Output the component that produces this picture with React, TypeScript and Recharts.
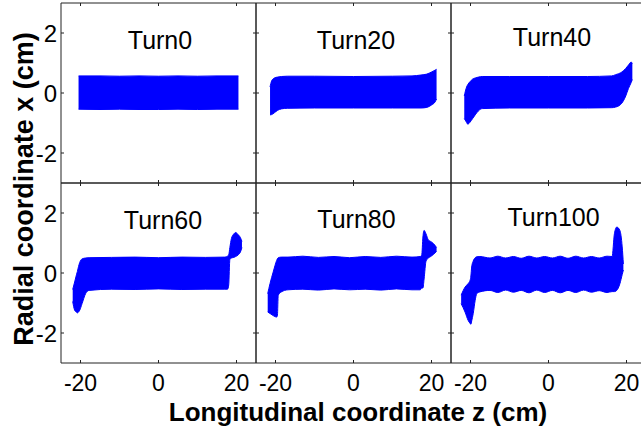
import { AreaChart, Area, XAxis, YAxis, ReferenceArea } from 'recharts';

// particle cloud outlines: z (cm), lower and upper edge of x (cm)
const turn0Z = [-20.5, -15, -10, -5, 0, 5, 10, 15, 20.5];
const turn0Low = [-0.54, -0.55, -0.54, -0.55, -0.55, -0.54, -0.55, -0.54, -0.54];
const turn0High = [0.57, 0.57, 0.56, 0.57, 0.56, 0.57, 0.56, 0.57, 0.57];

const turn20Z = [-21.4, -21.0, -20.3, -19.5, -18.5, -17, -10, 0, 10, 15, 17.3, 18.8, 20.0, 20.9, 21.3];
const turn20Low = [-0.73, -0.72, -0.66, -0.58, -0.53, -0.51, -0.5, -0.5, -0.5, -0.5, -0.5, -0.48, -0.4, -0.3, -0.2];
const turn20High = [0.2, 0.4, 0.5, 0.53, 0.55, 0.56, 0.56, 0.55, 0.56, 0.57, 0.6, 0.63, 0.7, 0.76, 0.79];

const turn40Z = [-21.6, -21.0, -20.7, -20.1, -19.5, -18.8, -18.0, -17.0, -10, 0, 10, 16.2, 17.2, 18.8, 19.8, 20.5, 21.2, 21.5];
const turn40Low = [-0.85, -0.98, -1.04, -0.97, -0.86, -0.73, -0.6, -0.52, -0.5, -0.5, -0.5, -0.49, -0.47, -0.34, -0.1, 0.15, 0.35, 0.45];
const turn40High = [-0.1, 0.2, 0.28, 0.38, 0.46, 0.5, 0.53, 0.55, 0.55, 0.55, 0.55, 0.57, 0.61, 0.7, 0.82, 0.93, 1.03, 0.98];

const turn60Z = [-22.0, -21.5, -21.0, -20.8, -20.5, -20.2, -19.6, -18.7, -17.8, -12, -6, 0, 6, 12, 17.0, 17.7, 18.0, 18.3, 18.7, 19.3, 19.8, 20.4, 21.0, 21.4];
const turn60Low = [-0.95, -1.24, -1.31, -1.33, -1.3, -1.24, -1.02, -0.69, -0.58, -0.54, -0.55, -0.53, -0.55, -0.54, -0.54, -0.54, -0.4, 0.45, 0.5, 0.52, 0.55, 0.6, 0.7, 0.85];
const turn60High = [-0.55, -0.3, -0.04, 0.05, 0.22, 0.35, 0.47, 0.5, 0.51, 0.52, 0.53, 0.51, 0.53, 0.52, 0.53, 0.56, 0.6, 0.85, 1.15, 1.3, 1.35, 1.28, 1.18, 1.05];

const turn80Z = [-22.0, -21.4, -20.6, -19.7, -19.5, -19.3, -18.5, -16.8, -13, -9, -5, -1, 3, 7, 11, 15, 17.1, 17.5, 17.8, 18.1, 18.6, 19.2, 19.8, 20.5, 21.3];
const turn80Low = [-1.3, -1.35, -1.42, -1.47, -1.4, -0.74, -0.63, -0.56, -0.54, -0.57, -0.53, -0.56, -0.54, -0.57, -0.53, -0.56, -0.56, -0.5, -0.5, -0.2, 0.4, 0.5, 0.55, 0.62, 0.72];
const turn80High = [-0.69, -0.35, 0.03, 0.42, 0.48, 0.51, 0.53, 0.53, 0.56, 0.52, 0.55, 0.51, 0.55, 0.52, 0.56, 0.53, 0.55, 0.6, 1.2, 1.42, 1.3, 1.1, 1.05, 0.98, 0.85];

const turn100Z = [-22.4, -21.4, -20.6, -20.1, -19.9, -19.7, -19.3, -18.8, -18.4, -17.6, -15, -13, -11, -9, -7, -5, -3, -1, 1, 3, 5, 7, 9, 11, 13, 15, 16.3, 16.9, 17.5, 18.3, 18.9, 19.2];
const turn100Low = [-1.02, -1.3, -1.58, -1.68, -1.71, -1.6, -1.35, -0.91, -0.69, -0.63, -0.58, -0.65, -0.57, -0.64, -0.58, -0.66, -0.57, -0.65, -0.58, -0.66, -0.58, -0.65, -0.57, -0.64, -0.59, -0.65, -0.62, -0.62, -0.58, -0.36, -0.05, 0.1];
const turn100High = [-0.74, -0.47, -0.35, -0.24, -0.1, 0.2, 0.4, 0.51, 0.54, 0.55, 0.5, 0.56, 0.5, 0.55, 0.49, 0.56, 0.5, 0.55, 0.5, 0.56, 0.49, 0.56, 0.5, 0.55, 0.5, 0.56, 0.55, 1.31, 1.53, 1.42, 0.87, 0.3];

const titles = ['Turn0', 'Turn20', 'Turn40', 'Turn60', 'Turn80', 'Turn100'];
const xTicks = [-20, 0, 20];
const yTicks = [-2, 0, 2];

const panels = [
  { z: turn0Z, low: turn0Low, high: turn0High },
  { z: turn20Z, low: turn20Low, high: turn20High },
  { z: turn40Z, low: turn40Low, high: turn40High },
  { z: turn60Z, low: turn60Low, high: turn60High },
  { z: turn80Z, low: turn80Low, high: turn80High },
  { z: turn100Z, low: turn100Low, high: turn100High },
];

const PLOT_W = 195;
const PLOT_H = 180;
const COL_LEFT = [61, 256, 451];
const ROW_TOP = [3, 183];
// 1px of each side goes to the axis itself (an axis of size 0 is not drawn)
const M = { top: 10, right: 10, bottom: 39, left: 49 };
const TICK = 3;
const FONT = '"Liberation Sans", Arial, Helvetica, sans-serif';
const AXIS = '#222';

// title placement, centre x and baseline y
const titlePos = [
  [160, 48.5], [356, 48.5], [552, 46],
  [163, 229], [356.5, 228], [553.5, 226],
];

const XTick = (props: any) => {
  const { x, y, payload, showLabel } = props;
  return (
    <g>
      <line x1={x} y1={y} x2={x} y2={y - TICK} stroke={AXIS} />
      <line x1={x} y1={y - PLOT_H} x2={x} y2={y - PLOT_H + TICK} stroke={AXIS} />
      {showLabel && (
        <text x={x} y={y + 28} textAnchor="middle" fontSize={23} fontFamily={FONT} fill="#000">
          {payload.value}
        </text>
      )}
    </g>
  );
};

const YTick = (props: any) => {
  const { x, y, payload, showLabel } = props;
  return (
    <g>
      <line x1={x} y1={y} x2={x + TICK} y2={y} stroke={AXIS} />
      <line x1={x + PLOT_W} y1={y} x2={x + PLOT_W - TICK} y2={y} stroke={AXIS} />
      {showLabel && (
        <text x={x - 4} y={y + 8.5} textAnchor="end" fontSize={24} fontFamily={FONT} fill="#000">
          {payload.value}
        </text>
      )}
    </g>
  );
};

const Panel = ({ idx }: { idx: number }) => {
  const p = panels[idx];
  const col = idx % 3;
  const row = Math.floor(idx / 3);
  const data = p.z.map((v, i) => ({ z: v, band: [p.low[i], p.high[i]] }));
  return (
    <div style={{ position: 'absolute', left: COL_LEFT[col] - M.left - 1, top: ROW_TOP[row] - M.top }}>
      <AreaChart
        width={PLOT_W + M.left + M.right + 1}
        height={PLOT_H + M.top + M.bottom + 1}
        data={data}
        margin={M}
      >
        <XAxis
          dataKey="z"
          type="number"
          domain={[-25, 25]}
          ticks={xTicks}
          interval={0}
          allowDataOverflow
          height={1}
          tickSize={0}
          tickMargin={0}
          axisLine={false}
          tickLine={false}
          tick={(t: any) => <XTick {...t} showLabel={row === 1} />}
        />
        <YAxis
          type="number"
          domain={[-3, 3]}
          ticks={yTicks}
          interval={0}
          allowDataOverflow
          width={1}
          tickSize={0}
          tickMargin={0}
          axisLine={false}
          tickLine={false}
          tick={(t: any) => <YTick {...t} showLabel={col === 0} />}
        />
        <Area
          dataKey="band"
          type="monotone"
          stroke="#0000ff"
          strokeWidth={1}
          fill="#0000ff"
          fillOpacity={1}
          dot={false}
          activeDot={false}
          isAnimationActive={false}
        />
        <ReferenceArea x1={-25} x2={25} y1={-3} y2={3} fill="none" stroke={AXIS} strokeWidth={1} ifOverflow="visible" />
      </AreaChart>
    </div>
  );
};

export default function App() {
  return (
    <div style={{ position: 'absolute', left: 0, top: 0, width: 641, height: 431, overflow: 'hidden', background: '#fff' }}>
      {panels.map((_, i) => (
        <Panel key={i} idx={i} />
      ))}
      <svg width={641} height={431} style={{ position: 'absolute', left: 0, top: 0, pointerEvents: 'none' }}>
        {titles.map((t, i) => (
          <text key={t} x={titlePos[i][0]} y={titlePos[i][1]} textAnchor="middle" fontSize={25} fontFamily={FONT} fill="#000">
            {t}
          </text>
        ))}
        <text x={358} y={421} textAnchor="middle" fontSize={26} fontWeight="bold" fontFamily={FONT} fill="#000">
          Longitudinal coordinate z (cm)
        </text>
        <text
          x={33}
          y={189}
          textAnchor="middle"
          fontSize={27}
          fontWeight="bold"
          fontFamily={FONT}
          fill="#000"
          transform="rotate(-90 33 189)"
        >
          Radial coordinate x (cm)
        </text>
      </svg>
    </div>
  );
}
